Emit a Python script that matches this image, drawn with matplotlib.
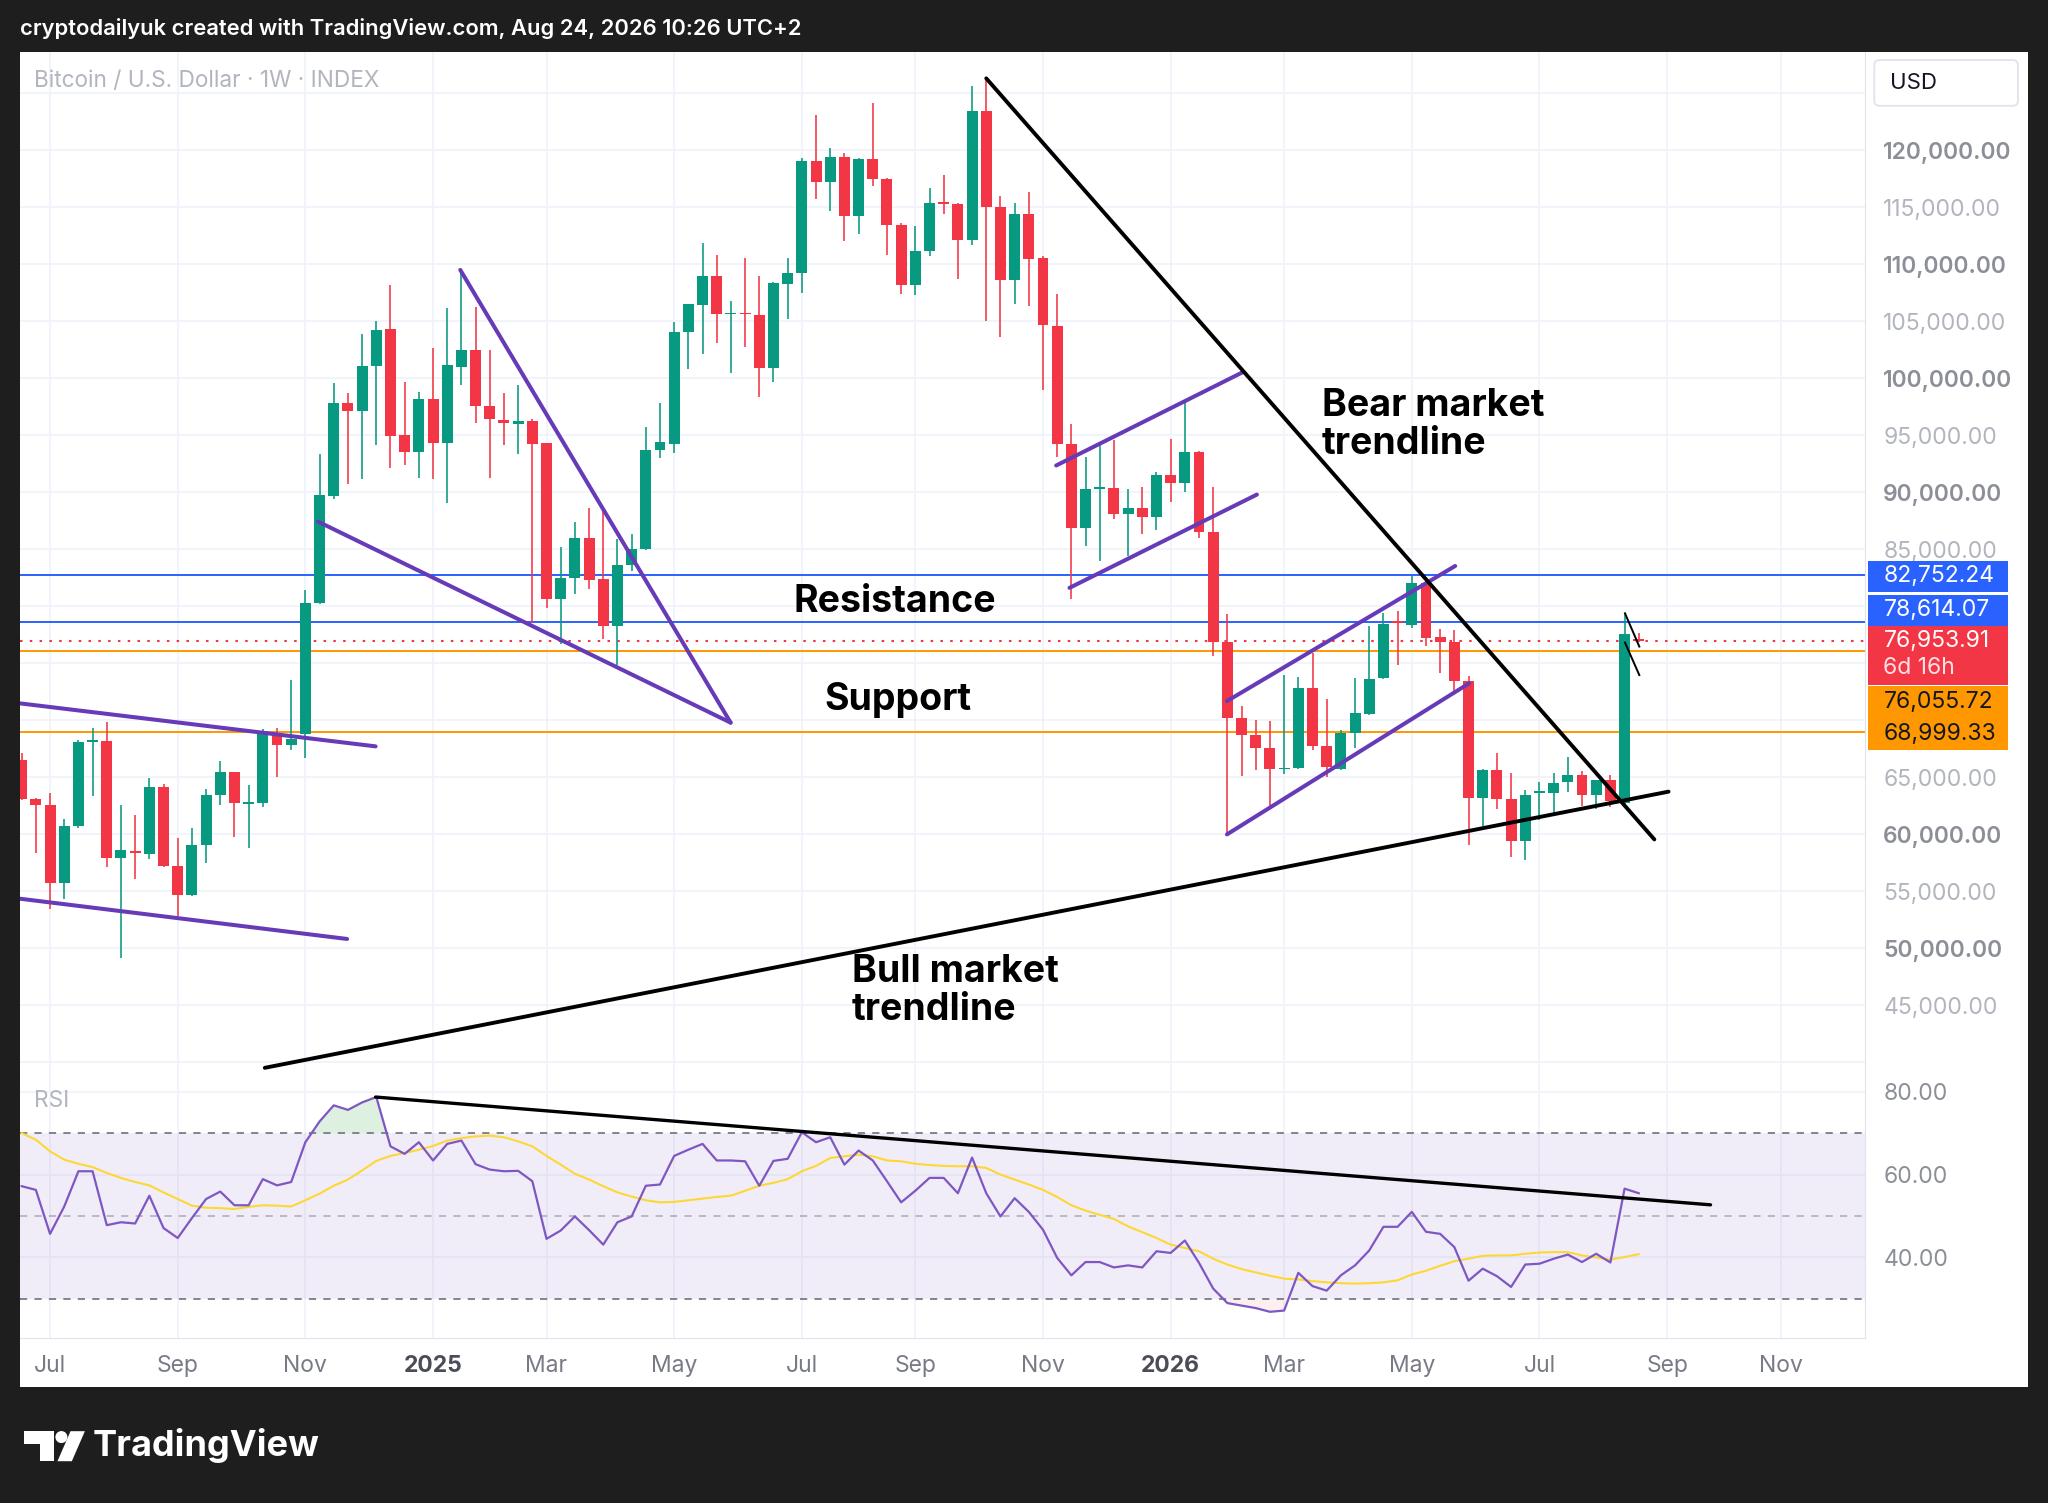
import numpy as np
import pandas as pd
import matplotlib
matplotlib.use("Agg")
import matplotlib.pyplot as plt
import matplotlib.dates as mdates
import matplotlib.transforms as mtransforms
from matplotlib.patches import Rectangle, Polygon, Circle, FancyBboxPatch

plt.rcParams['font.family'] = ['Inter', 'DejaVu Sans']

# weekly BTC candles, first one = week of 17 Jun 2024
first_week = '2024-06-17'
opens = [66490, 63070, 62573, 55731, 60702, 68100, 68158, 57953, 58567, 58304,
         64152, 57222, 54708, 59064, 63450, 65468, 62700, 62719, 68772, 67807,
         68772, 80322, 89708, 97808, 97135, 101082, 104299, 95000, 93538, 98217,
         94357, 101023, 102486, 97573, 96345, 95965, 96257, 94298, 80614, 82456,
         86024, 82413, 78285, 83654, 85030, 93722, 94260, 104059, 106408, 108992,
         105600, 105750, 105569, 100938, 108254, 109194, 119060, 117215, 119430, 114210,
         119269, 117456, 113480, 108158, 111140, 115400, 115292, 112164, 123450, 115029,
         108597, 114444, 110556, 104611, 94253, 86828, 90300, 90369, 88123, 88618,
         87856, 91474, 90788, 93530, 86523, 76889, 70225, 68740, 67560, 65693,
         65846, 72814, 67750, 65760, 68860, 70526, 73684, 78700, 78363, 82076,
         77310, 76871, 73450, 63216, 65614, 63129, 59386, 63650, 63655, 64591,
         65205, 63421, 64737, 62778, 77164]
highs = [67160, 63216, 63655, 61316, 68246, 69357, 69883, 62573, 61667, 64971,
         64386, 59708, 60585, 64006, 66404, 65500, 64298, 69211, 69357, 73509,
         81404, 93334, 99562, 98743, 103860, 105000, 108158, 99708, 98831, 102690,
         106140, 109562, 106287, 102456, 98743, 99386, 96400, 94357, 85234, 87427,
         88655, 88622, 85937, 86340, 95769, 97850, 104898, 106500, 111879, 110771,
         106811, 110570, 108992, 108420, 110536, 119329, 123121, 120235, 119765, 119300,
         124181, 117573, 113626, 113392, 116725, 117865, 115350, 125643, 126200, 115994,
         115380, 116345, 110700, 107391, 95967, 93073, 94139, 94558, 90293, 90445,
         91740, 94710, 97947, 93600, 90445, 79288, 71291, 70035, 69959, 73957,
         73842, 75937, 71862, 69152, 73684, 78275, 79386, 79591, 82661, 82200,
         77983, 77895, 73889, 65700, 67164, 65409, 63860, 64591, 65409, 66784,
         65555, 64800, 65205, 79445, 77632]
lows = [63000, 58392, 53421, 54298, 60585, 63363, 57134, 49181, 56053, 57807,
        57134, 52836, 54591, 57515, 62544, 59795, 58830, 62398, 65029, 67398,
        66725, 80234, 89386, 90702, 91141, 94123, 92164, 92369, 91287, 91199,
        89094, 99386, 96111, 91287, 94123, 93334, 78567, 79883, 76667, 81111,
        81491, 77111, 74862, 83084, 84900, 92984, 93488, 100770, 102113, 103119,
        100435, 102784, 98354, 99696, 105166, 107482, 115738, 114698, 112013, 112690,
        116871, 110789, 107427, 107281, 110702, 114444, 108684, 111667, 105000, 103596,
        106491, 106315, 98947, 93111, 80621, 85267, 83934, 87666, 84429, 86333,
        86714, 89189, 90065, 86028, 75670, 60058, 65084, 65655, 62532, 65274,
        65700, 67369, 65008, 65643, 67602, 70439, 73600, 74854, 78129, 76521,
        74123, 72573, 59035, 60731, 62193, 58012, 57719, 61228, 61901, 63713,
        62485, 62193, 62427, 62632, 76900]
closes = [63070, 62544, 55731, 60731, 68100, 68250, 57953, 58626, 58333, 64152,
          57193, 54708, 59064, 63480, 65468, 62719, 62800, 68772, 67807, 68333,
          80322, 89737, 97808, 97135, 101082, 104241, 94942, 93538, 98217, 94357,
          101140, 102486, 97573, 96404, 96053, 96257, 94211, 80614, 82456, 86024,
          82310, 78285, 83654, 85030, 93722, 94394, 104059, 106475, 108992, 105636,
          105700, 105600, 100938, 108355, 109194, 119060, 117215, 119430, 114194, 119269,
          117456, 113421, 108158, 111140, 115380, 115300, 112164, 123450, 115029, 108597,
          114444, 110497, 104649, 94253, 86828, 90293, 90450, 88123, 88618, 87856,
          91474, 90788, 93530, 86523, 76889, 70225, 68740, 67560, 65693, 65846,
          72814, 67750, 65884, 68860, 70614, 73655, 78480, 78550, 82076, 77252,
          76871, 73450, 63216, 65614, 63129, 59386, 63480, 63750, 64532, 65205,
          63421, 64737, 62924, 77544, 76953.91]

rsi = [57.2, 56.3, 45.7, 52.3, 60.8, 60.8, 47.8, 48.5, 48.2, 54.9,
       47.1, 44.7, 49.5, 54.1, 55.9, 52.6, 52.6, 58.9, 57.4, 58.2,
       67.8, 72.8, 76.7, 75.6, 77.4, 78.7, 66.8, 65.0, 67.8, 63.4,
       67.4, 68.2, 62.5, 61.2, 60.8, 60.9, 58.4, 44.5, 46.5, 49.9,
       46.6, 43.1, 48.5, 49.9, 57.3, 57.6, 64.5, 66.0, 67.4, 63.4,
       63.4, 63.2, 57.3, 63.3, 63.8, 70.2, 67.8, 69.0, 62.4, 65.8,
       63.4, 58.4, 53.3, 56.1, 59.2, 59.2, 55.5, 64.1, 55.5, 49.9,
       54.3, 51.0, 46.7, 39.9, 35.7, 38.9, 38.9, 37.6, 38.1, 37.6,
       41.5, 41.1, 44.1, 38.7, 32.5, 29.0, 28.4, 27.8, 26.9, 27.2,
       36.3, 33.1, 32.0, 35.7, 38.1, 41.7, 47.4, 47.4, 51.0, 46.2,
       45.7, 42.5, 34.4, 37.3, 35.5, 32.9, 38.3, 38.5, 39.7, 40.7,
       38.9, 40.9, 38.8, 56.6, 55.5]
rsi_ma = [70.0, 68.4, 65.6, 63.6, 62.6, 61.8, 60.4, 59.2, 58.2, 57.4,
          55.7, 54.1, 52.5, 52.0, 51.9, 51.7, 52.2, 52.6, 52.5, 52.3,
          53.8, 55.4, 57.3, 58.8, 61.0, 63.3, 64.5, 65.2, 66.0, 66.9,
          68.2, 68.8, 69.2, 69.4, 69.0, 68.0, 66.8, 64.5, 62.4, 60.2,
          58.8, 57.2, 55.7, 54.7, 53.8, 53.3, 53.4, 53.8, 54.2, 54.6,
          54.9, 56.1, 57.3, 58.0, 58.9, 60.8, 62.1, 64.0, 64.4, 64.8,
          64.4, 63.4, 63.2, 62.6, 62.3, 62.1, 62.0, 62.0, 61.6, 60.0,
          58.8, 57.6, 56.3, 54.6, 52.6, 51.3, 50.3, 49.3, 47.5, 46.1,
          44.7, 43.1, 42.3, 41.5, 39.7, 38.3, 37.2, 36.4, 35.6, 34.9,
          34.7, 34.3, 34.0, 33.8, 33.7, 33.8, 34.0, 34.5, 35.9, 36.8,
          38.0, 39.1, 39.7, 40.4, 40.5, 40.5, 40.9, 41.2, 41.3, 41.3,
          40.5, 40.0, 39.5, 40.1, 40.8]

# horizontal levels
level_prices = [82752.24, 78614.07, 76055.72, 68999.33]
level_colors = ['#2962ff', '#2962ff', '#ff9800', '#ff9800']
last_price = 76953.91

# price-scale tags (stacked like TradingView does)
tag_texts = ['82,752.24', '78,614.07', '76,953.91', '76,055.72', '68,999.33']
tag_tops = [84010, 81000, 78290, 73050, 70190]
tag_bottoms = [81240, 78290, 73110, 70190, 67440]
tag_colors = ['#2962ff', '#2962ff', '#f23645', '#ff9800', '#ff9800']
tag_text_colors = ['white', 'white', 'white', '#131722', '#131722']
countdown = '6d 16h'

# drawings: (weeks after first_week, price)
purple_lines = [
    [(-0.12, 71490), (24.95, 67720)],
    [(-0.12, 54360), (22.94, 50830)],
    [(20.89, 87430), (49.98, 69800)],
    [(30.92, 109500), (49.98, 69800)],
    [(72.93, 92350), (86.08, 100530)],
    [(73.87, 81620), (87.08, 89800)],
    [(84.97, 71690), (101.06, 83540)],
    [(84.97, 60000), (102.04, 73250)],
]
bear_line = [(68.0, 126300), (115.1, 59560)]
bull_line = [(17.14, 39530), (116.1, 63750)]
flag_lines = [[(113.03, 79390), (114.04, 76470)],
              [(113.03, 76820), (114.04, 73970)]]
rsi_trend = [(24.95, 78.7), (119.06, 52.7)]

ann_texts = ['Bear market\ntrendline', 'Resistance', 'Support', 'Bull market\ntrendline']
ann_weeks = [91.66, 61.55, 61.74, 58.51]
ann_prices = [95900, 80380, 71790, 46250]
ann_ha = ['left', 'center', 'center', 'left']

tick_dates = ['2024-07-01', '2024-09-02', '2024-11-04', '2025-01-06', '2025-03-03',
              '2025-05-05', '2025-07-07', '2025-09-01', '2025-11-03', '2026-01-05',
              '2026-03-02', '2026-05-04', '2026-07-06', '2026-09-07', '2026-11-02']
tick_labels = ['Jul', 'Sep', 'Nov', '2025', 'Mar', 'May', 'Jul', 'Sep', 'Nov', '2026',
               'Mar', 'May', 'Jul', 'Sep', 'Nov']

o = np.array(opens, float)
h = np.array(highs, float)
l = np.array(lows, float)
c = np.array(closes, float)
dates = pd.date_range(first_week, periods=len(o), freq='7D')
x = mdates.date2num(dates)
x0 = x[0]


def wx(w):
    return x0 + 7 * np.asarray(w, float)


GREEN = '#089981'
RED = '#f23645'
GRID = '#f0f3fa'
xlim = (wx(-0.147), wx(129.96))

fig = plt.figure(figsize=(20.48, 15.03), dpi=100, facecolor='#1e1e1e')

# background layer in "screen" units of the reference
bg = fig.add_axes([0, 0, 1, 1])
bg.set_xlim(0, 1568)
bg.set_ylim(1151, 0)
bg.axis('off')
bg.add_patch(Rectangle((15, 40), 1538, 1022, color='white', lw=0))
bg.text(15, 22, 'cryptodailyuk created with TradingView.com, Aug 24, 2026 10:26 UTC+2',
        color='white', fontsize=15.8, fontweight='semibold', va='center')
bg.add_patch(FancyBboxPatch((1435, 46), 110, 35, boxstyle='round,pad=0,rounding_size=4',
                            fc='white', ec='#e0e3eb', lw=1.3))
bg.text(1447, 63.5, 'USD', fontsize=16, color='#131722', va='center')
# logo
bg.add_patch(Polygon([(18, 1096), (41, 1096), (41, 1119), (31, 1119), (31, 1106), (18, 1106)],
                     closed=True, color='white', lw=0))
bg.add_patch(Circle((47, 1100.5), 4.6, color='white', lw=0))
bg.add_patch(Polygon([(54, 1096), (65, 1096), (55, 1119), (44, 1119)], closed=True, color='white', lw=0))
bg.text(71, 1107, 'TradingView', fontsize=26, fontweight='bold', color='white', va='center')

# ---------- price pane ----------
ax = fig.add_axes([15 / 1568, 1 - 827 / 1151, 1413 / 1568, 787 / 1151])
ax.set_xlim(*xlim)
ax.set_ylim(38470, 128590)

for p in range(40000, 130000, 5000):
    ax.axhline(p, color=GRID, lw=1.3, zorder=0)
for d in tick_dates:
    ax.axvline(mdates.datestr2num(d), color=GRID, lw=1.3, zorder=0)

up = c >= o
cols = np.where(up, GREEN, RED)
ax.vlines(x, l, h, colors=cols, lw=1.15, zorder=3)
ax.bar(x, np.maximum(np.abs(c - o), 130), bottom=np.minimum(o, c), width=5.4,
       color=cols, lw=0, zorder=4)

for p, col in zip(level_prices, level_colors):
    ax.axhline(p, color=col, lw=1.4, zorder=2)
ax.axhline(last_price, color=RED, lw=1.5, ls=(0, (1.2, 3.5)), zorder=2)

for seg in purple_lines:
    (w1, p1), (w2, p2) = seg
    ax.plot(wx([w1, w2]), [p1, p2], color='#673ab7', lw=2.9, solid_capstyle='round', zorder=5)
for seg in [bear_line, bull_line]:
    (w1, p1), (w2, p2) = seg
    ax.plot(wx([w1, w2]), [p1, p2], color='black', lw=2.8, solid_capstyle='round', zorder=6)
for seg in flag_lines:
    (w1, p1), (w2, p2) = seg
    ax.plot(wx([w1, w2]), [p1, p2], color='black', lw=1.4, zorder=6)

for t, w, p, ha in zip(ann_texts, ann_weeks, ann_prices, ann_ha):
    ax.text(wx(w), p, t, fontsize=27, fontweight='bold', color='#000000',
            ha=ha, va='center', linespacing=1.08, zorder=7)

ax.text(11 / 1413, 1 - 22 / 787, 'Bitcoin / U.S. Dollar \u00b7 1W \u00b7 INDEX', transform=ax.transAxes,
        fontsize=16.3, color='#b2b5be', va='center')

yt = list(range(45000, 125001, 5000))
ylabels = ['' if v in (70000, 75000, 80000, 125000) else f'{v:,.2f}' for v in yt]
ax.set_yticks(yt)
ax.set_yticklabels(ylabels)
ax.yaxis.tick_right()
ax.tick_params(axis='y', length=0, pad=13, labelsize=16.5)
for v, lab in zip(yt, ax.get_yticklabels()):
    if v % 10000 == 0:
        lab.set_color('#8c8f98')
        lab.set_fontweight('semibold')
    else:
        lab.set_color('#b2b5be')
ax.set_xticks([])
for s in ['top', 'left']:
    ax.spines[s].set_visible(False)
ax.spines['right'].set_color('#e0e3eb')
ax.spines['bottom'].set_color('#e0e3eb')

blend = mtransforms.blended_transform_factory(ax.transAxes, ax.transData)
bx0 = (1430 - 15) / 1413
bw = (1537 - 1430) / 1413
tx = (1442 - 15) / 1413
for txt, top, bot, fc, tc in zip(tag_texts, tag_tops, tag_bottoms, tag_colors, tag_text_colors):
    ax.add_patch(Rectangle((bx0, bot), bw, top - bot, transform=blend, clip_on=False,
                           fc=fc, ec='none', zorder=8))
    if fc == RED:
        ax.text(tx, top - 0.26 * (top - bot), txt, transform=blend, color=tc, fontsize=16.5,
                va='center', zorder=9, clip_on=False)
        ax.text(tx, top - 0.72 * (top - bot), countdown, transform=blend, color='#ffe0e3',
                fontsize=16.5, va='center', zorder=9, clip_on=False)
    else:
        ax.text(tx, (top + bot) / 2, txt, transform=blend, color=tc, fontsize=16.5,
                va='center', zorder=9, clip_on=False)

# ---------- RSI pane ----------
axr = fig.add_axes([15 / 1568, 1 - 1025 / 1151, 1413 / 1568, 198 / 1151])
axr.set_xlim(*xlim)
axr.set_ylim(20.47, 82.83)
r = np.array(rsi)
rm = np.array(rsi_ma)
for v in (40, 60, 80):
    axr.axhline(v, color=GRID, lw=1.3, zorder=0)
for d in tick_dates:
    axr.axvline(mdates.datestr2num(d), color=GRID, lw=1.3, zorder=0)
axr.axhspan(30, 70, color='#7e57c2', alpha=0.1, lw=0, zorder=1)
axr.axhline(70, color='#787b86', lw=1.3, ls=(0, (4, 4)), zorder=2)
axr.axhline(50, color='#787b86', alpha=0.5, lw=1.3, ls=(0, (4, 4)), zorder=2)
axr.axhline(30, color='#787b86', lw=1.3, ls=(0, (4, 4)), zorder=2)
axr.fill_between(x, 70, r, where=r > 70, interpolate=True, color='#4caf50', alpha=0.18, lw=0, zorder=2)
axr.fill_between(x, 30, r, where=r < 30, interpolate=True, color='#f23645', alpha=0.08, lw=0, zorder=2)
axr.plot(x, rm, color='#fdd835', lw=1.5, zorder=3)
axr.plot(x, r, color='#7e57c2', lw=1.6, zorder=4)
(w1, p1), (w2, p2) = rsi_trend
axr.plot(wx([w1, w2]), [p1, p2], color='black', lw=2.4, solid_capstyle='round', zorder=5)
axr.text(11 / 1413, 1 - 16 / 198, 'RSI', transform=axr.transAxes, fontsize=16.3,
         color='#b2b5be', va='center')

axr.set_yticks([40, 60, 80])
axr.set_yticklabels(['40.00', '60.00', '80.00'])
axr.yaxis.tick_right()
axr.tick_params(axis='y', length=0, pad=13, labelsize=16.5, labelcolor='#8c8f98')

axr.set_xticks([mdates.datestr2num(d) for d in tick_dates])
axr.set_xticklabels(tick_labels)
axr.tick_params(axis='x', length=0, pad=12, labelsize=16.5)
for lab in axr.get_xticklabels():
    if lab.get_text().isdigit():
        lab.set_fontweight('bold')
        lab.set_color('#4a4d57')
    else:
        lab.set_color('#787b86')
for s in ['top', 'left']:
    axr.spines[s].set_visible(False)
axr.spines['right'].set_color('#e0e3eb')
axr.spines['bottom'].set_color('#e0e3eb')

fig.savefig('out.png', dpi=100, facecolor=fig.get_facecolor())
